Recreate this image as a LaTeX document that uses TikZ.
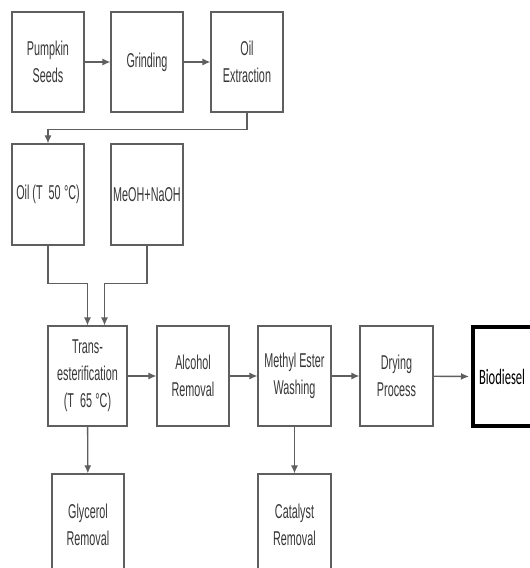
\documentclass[tikz,border=0pt]{standalone}
\usepackage{fontspec}
\usepackage{xcolor}
\usepackage{tikz}
\usetikzlibrary{arrows.meta}
\setmainfont{Liberation Sans}
\newfontfamily\narrowfont{Liberation Sans}[FakeStretch=0.54]
\newfontfamily\biofont{Carlito}[FakeStretch=0.57]
\definecolor{linegray}{RGB}{95,95,95}
\definecolor{textgray}{RGB}{55,55,55}
\tikzset{
  box/.style={draw=linegray,line width=1.1pt,minimum width=72pt,minimum height=100pt,
    inner sep=0pt,align=center,text=textgray,font=\narrowfont\fontsize{20}{27}\selectfont},
  arr/.style={draw=linegray,line width=1.4pt,-{Latex[length=8pt,width=7pt]}},
  link/.style={draw=linegray,line width=1.2pt}
}
\begin{document}
\begin{tikzpicture}[x=1pt,y=-1pt]
\useasboundingbox[fill=white](0,0)rectangle(530,568);
\node[box](seeds)at(48,62){Pumpkin\\Seeds};
\node[box](grind)at(147,62){Grinding};
\node[box](extract)at(247,62){Oil\\Extraction};
\node[box,minimum height=101pt](oil)at(48,194.5){Oil (T\ \ 50\,°C)};
\node[box,minimum height=101pt](meoh)at(147,194.5){MeOH+NaOH};
\node[box,minimum width=79pt](trans)at(87.5,376){Trans-\\esterification\\(T\ \ 65\,°C)};
\node[box](alcohol)at(193,376){Alcohol\\Removal};
\node[box,minimum width=73pt](washing)at(294.5,376){Methyl Ester\\Washing};
\node[box,minimum width=73pt](drying)at(396.5,376){Drying\\Process};
\node[draw=black,line width=4pt,anchor=west,minimum height=99pt,inner xsep=6pt,
  text width=80pt,align=left,font=\biofont\fontsize{22}{24}\selectfont](bio)at(471,376.5){Biodiesel};
\node[box,minimum height=102pt](glycerol)at(88,525){Glycerol\\Removal};
\node[box,minimum width=73pt,minimum height=102pt](catalyst)at(294.5,525){Catalyst\\Removal};
\draw[arr](seeds)--(grind);
\draw[arr](grind)--(extract);
\draw[arr](extract.south)--++(0,17)-|(oil.north);
\draw[arr](oil.south)--++(0,38)-|(trans.north);
\draw[arr](meoh.south)--++(0,38)-|([xshift=17pt]trans.north);
\draw[arr](trans)--(alcohol);
\draw[arr](alcohol)--(washing);
\draw[arr](washing)--(drying);
\draw[arr,shorten >=2pt](drying)--(bio.west);
\draw[arr](trans)--(glycerol);
\draw[arr](washing)--(catalyst);
\end{tikzpicture}
\end{document}
